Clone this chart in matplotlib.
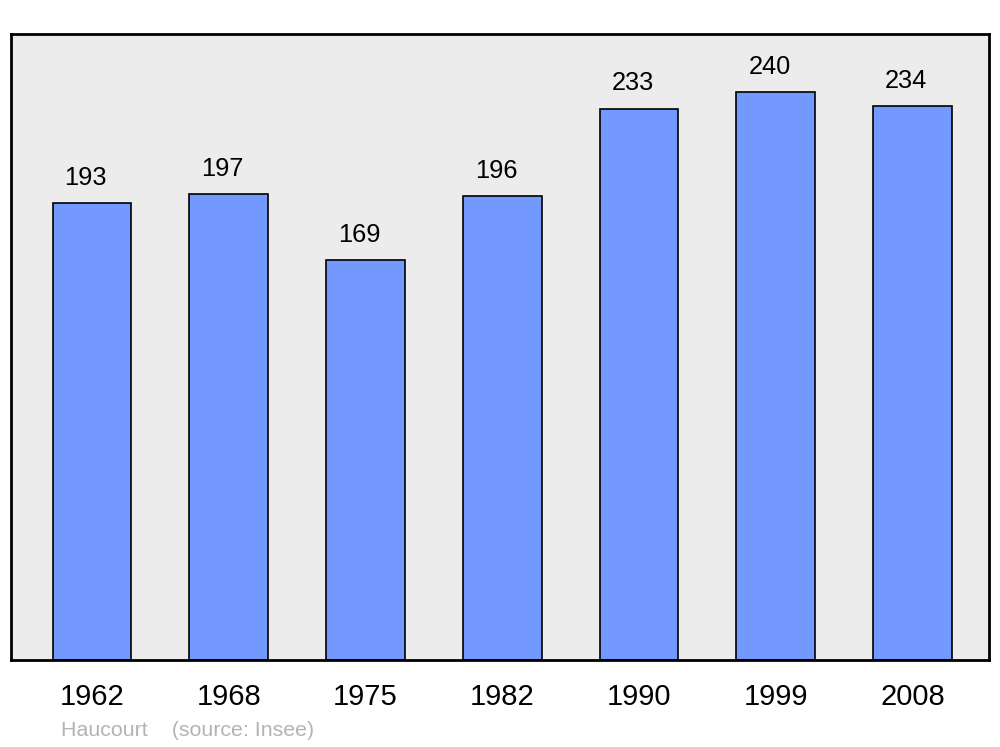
import numpy as np
import matplotlib.pyplot as plt

plt.rcParams['font.family'] = ['Liberation Sans', 'DejaVu Sans']

# Population data
years = ['1962', '1968', '1975', '1982', '1990', '1999', '2008']
population = [193, 197, 169, 196, 233, 240, 234]

fig = plt.figure(figsize=(10, 7.47), dpi=100)
ax = fig.add_axes([0.011, 0.1165, 0.978, 0.838])
ax.set_facecolor('#ececec')

x = np.arange(len(years))
ax.bar(x, population, width=0.575, color='#7399ff', edgecolor='black', linewidth=1.2, zorder=2)

for xi, v in zip(x, population):
    ax.text(xi - 0.045, v + 10.6, str(v), ha='center', va='center', fontsize=18.3)

ax.set_xlim(-0.592, 6.56)
ax.set_ylim(0, 264.5)
ax.set_yticks([])
ax.set_xticks(x)
ax.set_xticklabels(years, fontsize=21)
ax.tick_params(axis='x', length=0, pad=16.5)
for s in ax.spines.values():
    s.set_linewidth(2)

fig.text(0.061, 0.0225, 'Haucourt    (source: Insee)', color='#b3b3b3', fontsize=15.4, va='center')

fig.savefig('out.png', dpi=100)
